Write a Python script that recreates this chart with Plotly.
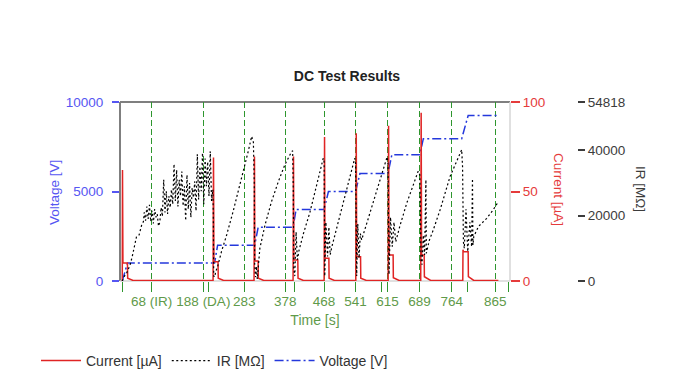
import plotly.graph_objects as go

# ---------------- data ----------------
volt_t = [0, 12, 214, 221, 307, 315, 396, 403, 468, 478, 541, 551, 616, 625, 690, 698, 787, 802, 872]
volt_v = [0, 1000, 1000, 2000, 2000, 3000, 3000, 4000, 4000, 5000, 5000, 6000, 6000, 7050, 7050, 7950, 7950, 9250, 9250]

cur_t = [0, 0.5, 1.5, 12, 12.5, 25,
         210.5, 211.5, 212.5, 222, 222.5, 235,
         305.5, 306.5, 307.5, 315, 315.5, 328,
         396, 397, 398, 407, 407.5, 420,
         468, 469, 470, 479, 479.5, 492,
         541.5, 542.5, 543.5, 552.5, 553, 566,
         616.5, 617.5, 618.5, 628, 628.5, 642,
         692, 693, 694, 700, 700.5, 715,
         789.5, 790, 791, 802, 802.5, 815, 872]
cur_v = [0, 62, 10, 10, 1.5, 0.3,
         0.3, 69, 10.8, 10.8, 1.5, 0.3,
         0.3, 69.5, 11.2, 11.2, 1.5, 0.3,
         0.3, 69.5, 11.7, 11.7, 1.5, 0.3,
         0.3, 80.5, 12.7, 12.7, 1.5, 0.3,
         0.3, 82.5, 13.6, 13.6, 1.5, 0.3,
         0.3, 86.7, 14.5, 14.5, 1.8, 0.3,
         0.3, 94, 14.5, 14.5, 2.4, 0.3,
         0.3, 17.5, 16.4, 16.4, 2.4, 0.3, 0.3]

ir_t = [0, 5, 10, 14, 18, 23, 28, 33, 39, 45, 49,
        51, 54, 57, 60, 63, 66, 69, 72, 75, 78, 81, 84, 87, 90, 93, 96, 99, 102,
        105, 108, 111, 114, 117, 120, 123, 126, 129, 132, 135, 138, 141, 144,
        147, 150, 153, 156, 159, 162, 165, 168, 171, 174, 177, 180, 183, 186,
        189, 192, 195, 198, 201, 204, 207, 210, 211, 212,
        214, 217, 221, 230, 242, 257, 269, 281, 292, 300, 304, 306, 307, 309, 311, 313,
        319, 331, 346, 362, 377, 391, 395, 396.5, 397.5, 400, 403, 406, 410,
        420, 435, 450, 462, 466, 468, 468.8,
        469.5, 472, 476, 479, 482, 486, 500, 515, 530, 539, 541, 542.2,
        543.5, 546, 549, 552, 555, 570, 585, 600, 614, 616, 617,
        618.5, 622, 626, 630, 634, 644, 660, 675, 686, 690, 692.8,
        695, 698, 701, 704, 705, 712, 721, 737, 760, 780, 787, 789, 791,
        793, 797, 801, 806, 810, 812, 813, 815, 826, 845, 860, 872]
ir_v = [0, 1500, 2400, 3800, 4900, 7450, 10500, 13600, 14100, 17200, 18200,
        21000, 18500, 22800, 19000, 23300, 18200, 21500, 17600, 22000, 19500, 20500, 16800, 18000, 22500, 19800, 31000, 21000, 27500,
        20500, 26000, 22500, 28000, 23500, 35800, 24500, 34000, 22800, 31000, 26000, 33500, 23000, 29000,
        18500, 32500, 22000, 30000, 19500, 28500, 25500, 30500, 21500, 38800, 25000, 35000, 27500, 39200,
        23500, 37500, 29000, 36500, 26000, 39700, 24500, 28000, 21000, 1500,
        1200, 3000, 4400, 9000, 14100, 21300, 27400, 33500, 39700, 44300, 42500, 30000, 5000, 1200, 4500, 600,
        10000, 17200, 24300, 30500, 35600, 39200, 39900, 28000, 4000, 1500, 15000, 6500, 9500,
        14500, 21000, 29000, 35500, 37600, 36500, 12000,
        1500, 18000, 7500, 16500, 8000, 10500, 17800, 25300, 32800, 37600, 36000, 9000,
        1500, 17500, 7000, 14500, 12600, 19000, 25500, 32000, 38000, 36000, 8000,
        2000, 19500, 10500, 18000, 12000, 17000, 24000, 29500, 33600, 32500, 6000,
        5000, 14000, 8000, 31000, 8500, 12500, 15600, 21800, 32000, 38000, 40200, 35000, 12000,
        10000, 22000, 9000, 18000, 10500, 31300, 11000, 13600, 16700, 19200, 21800, 24300]

x_tick_vals = [68, 188, 283, 378, 468, 541, 615, 689, 764, 865]
x_tick_text = ["68 (IR)", "188 (DA)", "283", "378", "468", "541", "615", "689", "764", "865"]
x_minor_vals = [0, 200, 400, 600, 800, 895]
v_ticks = [0, 5000, 10000]
i_ticks = [0, 50, 100]
ir_ticks = [0, 20000, 40000, 54818]

# ---------------- styling ----------------
W, H = 694, 390
OFF = 8  # page body margin of the browser
PLOT_L, PLOT_R, PLOT_T, PLOT_B = 120 - OFF, 510 - OFF, 102 - OFF, 281 - OFF
IR_AXIS_X = 577 - OFF
ML, MR, MT, MB = PLOT_L, W - IR_AXIS_X, PLOT_T, H - PLOT_B
PW = W - ML - MR
PH = H - MT - MB
x_dom_end = (PLOT_R - ML) / PW

RED = "#e02424"
RED_TXT = "#e53b3b"
BLUE = "#2438dc"
BLUE_TXT = "#5656f2"
GREEN = "#2e962e"
GREEN_TXT = "#5f9a4a"
GRAY_TXT = "#3c3c3c"
FONT = "Liberation Sans, Arial, sans-serif"


def px_x(px):
    return (px - OFF - ML) / PW


def px_y(py):
    return (PLOT_B - (py - OFF)) / PH


fig = go.Figure()
fig.add_trace(go.Scatter(x=cur_t, y=cur_v, name="Current [µA]", mode="lines",
                         line=dict(color=RED, width=1.5), yaxis="y2"))
fig.add_trace(go.Scatter(x=ir_t, y=ir_v, name="IR [MΩ]", mode="lines",
                         line=dict(color="black", width=1.2, dash="2px,2.5px"), yaxis="y3"))
fig.add_trace(go.Scatter(x=volt_t, y=volt_v, name="Voltage [V]", mode="lines",
                         line=dict(color=BLUE, width=1.5, dash="9px,3px,2px,3px"), yaxis="y"))

fig.update_layout(
    width=W, height=H,
    margin=dict(l=ML, r=MR, t=MT, b=MB, autoexpand=False),
    paper_bgcolor="white", plot_bgcolor="white",
    font=dict(family=FONT, size=13.5, color=GRAY_TXT),
    title=dict(text="<b>DC Test Results</b>", x=(347 - OFF) / W, xref="container", xanchor="center",
               y=1 - (76 - OFF) / H, yref="container", yanchor="middle",
               font=dict(size=14, color="#222222", family=FONT)),
    showlegend=True,
    legend=dict(orientation="h", x=px_x(36), y=px_y(361), xanchor="left", yanchor="middle",
                font=dict(size=14, color="#333333"), bgcolor="rgba(0,0,0,0)", itemwidth=40,
                traceorder="normal"),
    xaxis=dict(domain=[0, x_dom_end], range=[-5.3, 899], tickmode="array",
               tickvals=x_tick_vals, ticktext=x_tick_text, tickangle=0,
               ticks="outside", ticklen=10, tickcolor=GREEN, tickwidth=1,
               tickfont=dict(color=GREEN_TXT, size=13.5), ticklabelstandoff=-2,
               showgrid=True, gridcolor=GREEN, griddash="6px,3px", gridwidth=1.4,
               zeroline=False, showline=False,
               minor=dict(tickmode="array", tickvals=x_minor_vals, ticks="outside",
                          ticklen=10, tickcolor=GREEN, tickwidth=1, showgrid=False),
               title=dict(text="Time [s]", font=dict(color=GREEN_TXT, size=14), standoff=6)),
    yaxis=dict(range=[0, 10000], tickmode="array", tickvals=v_ticks,
               ticktext=[str(v) for v in v_ticks], ticks="outside",
               ticklen=7, tickcolor=BLUE_TXT, tickwidth=1.5, ticklabelstandoff=6,
               tickfont=dict(color=BLUE_TXT, size=13.5),
               showgrid=False, zeroline=False, showline=False),
    yaxis2=dict(overlaying="y", side="right", anchor="x", range=[0, 100], tickmode="array",
                tickvals=i_ticks, ticktext=[str(v) for v in i_ticks], ticks="outside",
                ticklen=9, tickcolor=RED_TXT, tickwidth=1.5,
                tickfont=dict(color=RED_TXT, size=13.5),
                showgrid=False, zeroline=False, showline=False),
    yaxis3=dict(overlaying="y", side="right", anchor="free", position=1.0, range=[0, 54818],
                tickmode="array", tickvals=ir_ticks, ticktext=[str(v) for v in ir_ticks],
                ticks="outside", ticklen=7,
                tickcolor=GRAY_TXT, tickwidth=1.5, tickfont=dict(color=GRAY_TXT, size=13.5),
                showgrid=False, zeroline=False, showline=False),
)

# plot frame (sunken look: dark top/left, light right/bottom)
frame = [
    dict(x0=0, x1=0, y0=0, y1=1, color="#7f7f7f", width=2),
    dict(x0=0, x1=1, y0=1, y1=1, color="#7f7f7f", width=2),
    dict(x0=1, x1=1, y0=0, y1=1, color="#d6d6d6", width=1.5),
    dict(x0=0, x1=1, y0=0, y1=0, color="#d6d6d6", width=1.5),
]
for f in frame:
    fig.add_shape(type="line", xref="x domain", yref="y domain", x0=f["x0"], x1=f["x1"],
                  y0=f["y0"], y1=f["y1"], line=dict(color=f["color"], width=f["width"]),
                  layer="below")

# axis titles
fig.add_annotation(text="Voltage [V]", xref="paper", yref="paper", x=px_x(54), y=px_y(193),
                   textangle=-90, showarrow=False, font=dict(color=BLUE_TXT, size=13.5),
                   xanchor="center", yanchor="middle")
fig.add_annotation(text="Current [µA]", xref="paper", yref="paper", x=px_x(559), y=px_y(189),
                   textangle=90, showarrow=False, font=dict(color=RED_TXT, size=13.5),
                   xanchor="center", yanchor="middle")
fig.add_annotation(text="IR [MΩ]", xref="paper", yref="paper", x=px_x(641), y=px_y(189),
                   textangle=90, showarrow=False, font=dict(color=GRAY_TXT, size=13.5),
                   xanchor="center", yanchor="middle")

fig.write_html("out.html")
